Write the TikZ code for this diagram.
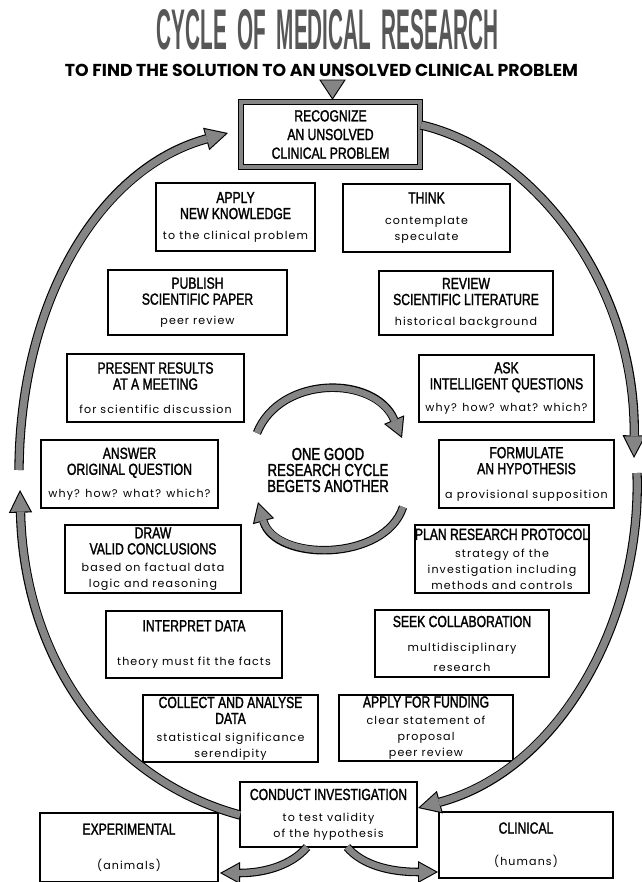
\documentclass[tikz,border=0pt]{standalone}
\usepackage{fontspec}
\setmainfont{Liberation Sans}
\newfontfamily\hdfam[FakeStretch=0.76,FakeBold=1.6]{Liberation Sans}
\newfontfamily\lcfam[LetterSpace=10]{Poppins}
\newfontfamily\subfam{Poppins}
\newfontfamily\ttlfam[FakeStretch=0.5]{Liberation Sans}
\usetikzlibrary{arrows.meta}
\newcommand\HD{\hdfam\fontsize{12}{12.5}\selectfont}
\newcommand\LC{\lcfam\fontsize{8.3}{10}\selectfont}
\newcommand\CT{\hdfam\fontsize{13}{16.5}\selectfont}
\colorlet{hatch}{black!48}
\tikzset{
  bx/.style={draw=black, line width=1pt, inner sep=0pt, align=center},
  plain/.style={inner sep=0pt, align=center},
}
\newcommand\mybox[6]{\node[bx, minimum width={(#4-#2)*0.75pt}, minimum height={(#5-#3)*0.75pt}] (#1) at ({(#2+#4)/2},{(#3+#5)/2}) {#6};}
% two-pass fat arrow: #1 = path
\newcommand\fatarrow[1]{%
  \draw[line width=7pt, black, -{Triangle[length=17pt,width=17.5pt,line width=0pt]}] #1;
  \draw[line width=5.4pt, hatch, shorten >=1.8pt, -{Triangle[length=14.4pt,width=14.8pt,line width=0pt]}] #1;}
\newcommand\midarrow[1]{%
  \draw[line width=6.4pt, black, -{Triangle[length=15pt,width=16.5pt,line width=0pt]}] #1;
  \draw[line width=4.8pt, hatch, shorten >=1.7pt, -{Triangle[length=12.5pt,width=13.8pt,line width=0pt]}] #1;}
\begin{document}
\begin{tikzpicture}[x=0.75pt,y=-0.75pt]
\useasboundingbox (0,0) rectangle (642,882);
% titles
\node[plain] (title) at (327.5,30) {\color{black!66}\resizebox{255.75pt}{30pt}{\ttlfam\bfseries CYCLE\hspace{0.25em}OF\hspace{0.25em}MEDICAL\hspace{0.25em}RESEARCH}};
\node[plain] (sub) at (321.5,70) {\resizebox{384.75pt}{!}{\subfam\bfseries TO FIND THE SOLUTION TO AN UNSOLVED CLINICAL PROBLEM}};
% top box
\node[draw=black, double=hatch, double distance=3.2pt, line width=0.6pt, inner sep=0pt, align=center,
      minimum width={179*0.75pt}, minimum height={65*0.75pt}] (rec) at (330.5,134.5)
  {\HD RECOGNIZE\\[2pt]\HD AN UNSOLVED\\[2pt]\HD CLINICAL PROBLEM};
\draw[fill=hatch, line width=0.7pt] (320,80) -- (345,80) -- (332.5,99) -- cycle;
% boxes
\mybox{apply}{156}{183}{315}{251}{\HD APPLY\\\HD NEW KNOWLEDGE\\[3pt]\LC to the clinical problem}
\mybox{think}{343}{184}{510}{252}{\HD THINK\\[4pt]\LC contemplate\\\LC speculate}
\mybox{publ}{108}{270}{287}{335}{\HD PUBLISH\\\HD SCIENTIFIC PAPER\\[3pt]\LC peer review}
\mybox{review}{379}{271}{553}{335}{\HD REVIEW\\\HD SCIENTIFIC LITERATURE\\[3pt]\LC historical background}
\mybox{present}{67}{354}{244}{422}{\HD PRESENT RESULTS\\\HD AT A MEETING\\[6pt]\LC for scientific discussion}
\mybox{ask}{419}{355}{594}{422}{\HD ASK\\\HD INTELLIGENT QUESTIONS\\[5pt]\LC why? how? what? which?}
\mybox{answer}{41}{440}{218}{508}{\HD ANSWER\\\HD ORIGINAL QUESTION\\[5pt]\LC why? how? what? which?}
\mybox{formul}{439}{440}{614}{508}{\HD FORMULATE\\\HD AN HYPOTHESIS\\[6pt]\LC a provisional supposition}
\mybox{drawc}{65}{525}{241}{593}{\HD DRAW\\\HD VALID CONCLUSIONS\\[1pt]\LC based on factual data\\\LC logic and reasoning}
\mybox{plan}{415}{525}{589}{593}{\HD PLAN RESEARCH PROTOCOL\\[1pt]\LC strategy of the\\\LC investigation including\\\LC methods and controls}
\mybox{interp}{106}{611}{282}{678}{\HD INTERPRET DATA\\[14pt]\LC theory must fit the facts}
\mybox{seek}{375}{610}{549}{677}{\HD SEEK COLLABORATION\\[6pt]\LC multidisciplinary\\[3pt]\LC research}
\mybox{collect}{143}{695}{318}{762}{\HD COLLECT AND ANALYSE\\\HD DATA\\[1pt]\LC statistical significance\\\LC serendipity}
\mybox{fund}{339}{695}{513}{761}{\HD APPLY FOR FUNDING\\[1pt]\LC clear statement of\\\LC proposal\\\LC peer review}
\mybox{conduct}{240}{782}{417}{847}{\HD CONDUCT INVESTIGATION\\[4pt]\LC to test validity\\\LC of the hypothesis}
\mybox{exper}{40}{813}{218}{882}{\HD EXPERIMENTAL\\[14pt]\LC (animals)}
\mybox{clin}{439}{812}{613}{878}{\HD CLINICAL\\[12pt]\LC (humans)}
% centre text
\node[plain] (cen) at (328,470) {\CT ONE GOOD\\\CT RESEARCH CYCLE\\\CT BEGETS ANOTHER};
% arc end points
\coordinate (a1s) at (421,125);
\coordinate (a1e) at (634,458);
\coordinate (a2s) at (637,473);
\coordinate (a2e) at (418,808);
\coordinate (a3s) at (240,815);
\coordinate (a3e) at (20,490);
\coordinate (a4s) at (19,470);
\coordinate (a4e) at (228,133);
\coordinate (c1s) at (257,433);
\coordinate (c1e) at (402,438);
\coordinate (c2s) at (403,507);
\coordinate (c2e) at (258,502);
\coordinate (b1s) at (307,847);
\coordinate (b1e) at (220,873);
\coordinate (b2s) at (347,847);
\coordinate (b2e) at (438,872);
% big arcs
\fatarrow{(a1s) .. controls (530,150) and (636,280) .. (a1e)}
\fatarrow{(a2s) .. controls (642,620) and (560,770) .. (a2e)}
\fatarrow{(a3s) .. controls (110,780) and (24,660) .. (a3e)}
\fatarrow{(a4s) .. controls (20,300) and (100,168) .. (a4e)}
% inner cycle
\midarrow{(c1s) .. controls (280,375) and (375,375) .. (c1e)}
\midarrow{(c2s) .. controls (385,562) and (275,562) .. (c2e)}
% bottom arrows
\midarrow{(b1s) .. controls (292,865) and (265,873) .. (b1e)}
\midarrow{(b2s) .. controls (362,865) and (390,872) .. (b2e)}
\end{tikzpicture}
\end{document}
